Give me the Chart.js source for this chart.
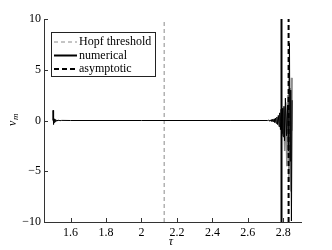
<!DOCTYPE html>
<html>
<head>
<meta charset="utf-8">
<script src="https://cdn.jsdelivr.net/npm/chart.js@4/dist/chart.umd.min.js"></script>
<style>
  html, body { margin: 0; padding: 0; background: #fff; }
  #wrap { width: 332px; height: 250px; }
</style>
</head>
<body>
<div id="wrap"><canvas id="chart" width="332" height="250"></canvas></div>
<script>
// values
const xTicks = [1.6, 1.8, 2, 2.2, 2.4, 2.6, 2.8];
const yTicks = [-10, -5, 0, 5, 10];
const hopfTau = 2.128;
const numericalTau = 2.79;
const asymptoticTau = 2.83;

// numerical solution v_m(tau), black
const sigTau = [1.5, 1.501, 1.503, 1.505, 1.507, 1.51, 1.513, 1.516, 1.52, 1.524, 1.528, 1.533, 1.54, 1.55, 1.6,
  2.0, 2.5, 2.712, 2.716, 2.72, 2.724, 2.728, 2.732, 2.736, 2.74, 2.744, 2.748, 2.752, 2.756, 2.76,
  2.764, 2.768, 2.772, 2.776, 2.78, 2.784, 2.788, 2.792, 2.796, 2.8, 2.804, 2.807, 2.812, 2.818, 2.824,
  2.829, 2.835, 2.838, 2.842, 2.846, 2.85];
const sigV = [0, 1.0, -0.4, 0.3, -0.22, 0.16, -0.12, 0.09, -0.07, 0.05, -0.04, 0.03, -0.02, 0.01, 0,
  0, 0, 0, 0.03, -0.04, 0.05, -0.06, 0.08, -0.09, 0.11, -0.13, 0.16, -0.19, 0.23, -0.28,
  0.34, -0.4, 0.5, -0.6, 0.75, -0.9, 1.1, -1.3, 1.2, -1.6, 1.4, -2.0, 2.2, -1.5, 1.5, -3.0,
  7.6, -4.0, 3.0, -9.9, 2.0, 0];

// second oscillating trace, grey
const greyTau = [2.784, 2.79, 2.796, 2.802, 2.808, 2.814, 2.82, 2.826, 2.832, 2.838, 2.843, 2.846, 2.848, 2.85];
const greyV = [0, 0.8, -1.5, 1.2, -3.0, 1.8, -4.5, 2.5, -6.0, 3.2, -7.0, 4.2, -1.0, 4.2];

const pts = (xs, ys) => xs.map((x, i) => ({ x: x, y: ys[i] }));
const vline = t => [{ x: t, y: -10 }, { x: t, y: 10 }];

const FONT = "'Times New Roman', 'Liberation Serif', 'DejaVu Serif', serif";
const AXIS = "#333";

const datasets = [
  { label: "Hopf threshold", data: vline(hopfTau), borderColor: "#8a8a8a", borderWidth: 1, borderDash: [4, 3], order: 5 },
  { label: "numerical", data: vline(numericalTau), borderColor: "#000", borderWidth: 2, order: 1 },
  { label: "asymptotic", data: vline(asymptoticTau), borderColor: "#000", borderWidth: 2, borderDash: [5, 3], order: 2 },
  { label: "grey", data: pts(greyTau, greyV), borderColor: "#8c8c8c", borderWidth: 1.5, order: 4 },
  { label: "signal", data: pts(sigTau, sigV), borderColor: "#000", borderWidth: 1, order: 3 }
];
datasets.forEach(d => { d.showLine = true; d.pointRadius = 0; d.fill = false; d.tension = 0; });

const extras = {
  id: "extras",
  afterDraw(chart) {
    const ctx = chart.ctx;
    const xs = chart.scales.x, ys = chart.scales.y;
    const a = chart.chartArea;
    ctx.save();
    // inward ticks
    ctx.strokeStyle = AXIS;
    ctx.lineWidth = 1;
    ctx.beginPath();
    xTicks.forEach(t => {
      const px = Math.round(xs.getPixelForValue(t)) + 0.5;
      ctx.moveTo(px, a.bottom); ctx.lineTo(px, a.bottom - 4);
    });
    yTicks.forEach(t => {
      const py = Math.round(ys.getPixelForValue(t)) + 0.5;
      ctx.moveTo(a.left, py); ctx.lineTo(a.left + 4, py);
    });
    ctx.stroke();

    // legend
    const lx = 51, ly = 32, lw = 104, lh = 44;
    ctx.fillStyle = "#fff";
    ctx.fillRect(lx, ly, lw, lh);
    ctx.strokeStyle = "#222";
    ctx.lineWidth = 1;
    ctx.strokeRect(lx + 0.5, ly + 0.5, lw, lh);
    const rowY = [42, 55.5, 69];
    ctx.font = "12px " + FONT;
    ctx.textBaseline = "middle";
    ctx.textAlign = "left";
    [0, 1, 2].forEach((i, k) => {
      const d = datasets[i];
      ctx.beginPath();
      ctx.strokeStyle = d.borderColor;
      ctx.lineWidth = d.borderWidth;
      ctx.setLineDash(d.borderDash || []);
      ctx.moveTo(54, rowY[k]); ctx.lineTo(77, rowY[k]);
      ctx.stroke();
      ctx.setLineDash([]);
      ctx.fillStyle = "#000";
      ctx.fillText(d.label, 79, rowY[k]);
    });

    // axis titles
    ctx.fillStyle = "#000";
    ctx.font = "italic 12px " + FONT;
    ctx.textAlign = "center";
    ctx.fillText("\u03c4", 171, 242);
    ctx.translate(13, 120);
    ctx.rotate(-Math.PI / 2);
    ctx.textAlign = "left";
    ctx.fillText("v", -6, 0);
    ctx.font = "italic 9px " + FONT;
    ctx.fillText("m", 0, 3);
    ctx.restore();
  }
};

new Chart(document.getElementById("chart"), {
  type: "scatter",
  data: { datasets: datasets },
  options: {
    responsive: false,
    animation: false,
    devicePixelRatio: 1,
    layout: { padding: { left: 0, top: 19, right: 31, bottom: 0 } },
    plugins: { legend: { display: false }, tooltip: { enabled: false } },
    scales: {
      x: {
        type: "linear", min: 1.45, max: 2.9,
        afterBuildTicks: s => { s.ticks = xTicks.map(v => ({ value: v })); },
        afterFit: s => { s.height = 28; },
        grid: { display: false, drawTicks: false },
        border: { display: true, color: AXIS, width: 1 },
        ticks: { color: "#000", padding: 4, maxRotation: 0, autoSkip: false,
          font: { family: FONT, size: 12 }, callback: v => String(v) }
      },
      y: {
        type: "linear", min: -10, max: 10,
        afterBuildTicks: s => { s.ticks = yTicks.map(v => ({ value: v })); },
        afterFit: s => { s.width = 44; },
        grid: { display: false, drawTicks: false },
        border: { display: true, color: AXIS, width: 1 },
        ticks: { color: "#000", padding: 3, autoSkip: false,
          font: { family: FONT, size: 12 }, callback: v => String(v).replace("-", "\u2212") }
      }
    }
  },
  plugins: [extras]
});
</script>
</body>
</html>
